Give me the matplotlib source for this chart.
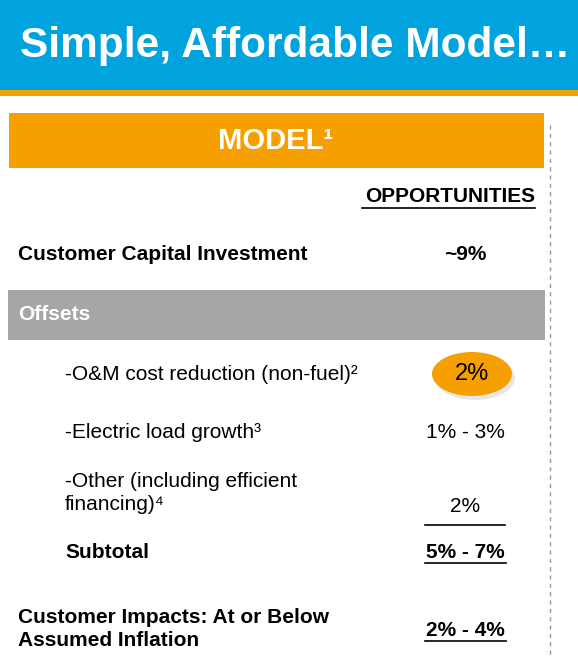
import matplotlib
matplotlib.use("Agg")
import matplotlib.pyplot as plt
from matplotlib.patches import Rectangle, Ellipse

plt.rcParams['font.family'] = ['Liberation Sans', 'DejaVu Sans']

title = "Simple, Affordable Model\u2026"
header = "MODEL\u00b9"
col_header = "OPPORTUNITIES"

# rows: label, value, text positions and styling flags
labels = ["Customer Capital Investment",
          "-O&M cost reduction (non-fuel)\u00b2",
          "-Electric load growth\u00b3",
          "-Other (including efficient\nfinancing)\u2074",
          "Subtotal",
          "Customer Impacts: At or Below\nAssumed Inflation"]
values = ["~9%", "2%", "1% - 3%", "2%", "5% - 7%", "2% - 4%"]
label_y = [255, 374, 433, 493, 553, 629]
value_y = [255, 374, 433, 506, 553, 631]
indented = [False, True, True, True, True, False]
bold = [True, False, False, False, True, True]
underlined = [False, False, False, False, True, True]

BLUE = "#00A3DD"
ORANGE = "#F5A000"
GREY = "#A6A6A6"
FS = 15

fig = plt.figure(figsize=(5.78, 6.56), dpi=100)
ax = fig.add_axes([0, 0, 1, 1])
ax.set_xlim(0, 578)
ax.set_ylim(656, 0)
ax.axis("off")

# header band
ax.add_patch(Rectangle((0, 0), 578, 90, color=BLUE, lw=0))
ax.add_patch(Rectangle((0, 90), 578, 6, color=ORANGE, lw=0))
ax.text(20, 46, title, color="white", fontsize=30.5, fontweight="bold", va="center")

# dashed divider
ax.plot([550, 550], [125, 656], color="#999999", lw=1, ls=(0, (3, 3)))

# model box
ax.add_patch(Rectangle((9, 113), 535, 55, color=ORANGE, lw=0))
ax.text(276, 141, header, color="white", fontsize=21, fontweight="bold",
        ha="center", va="center")

ax.text(535, 196, col_header, fontsize=FS, fontweight="bold", ha="right", va="center")
ax.plot([362, 535], [208, 208], color="black", lw=1.2)

# offsets band
ax.add_patch(Rectangle((8, 290), 537, 50, color=GREY, lw=0))
ax.text(18, 315, "Offsets", color="white", fontsize=FS, fontweight="bold", va="center")

# highlight ellipse on O&M value
ax.add_patch(Ellipse((475, 378), 80, 44, color="#d8d8d8", lw=0, alpha=0.6))
ax.add_patch(Ellipse((472, 374), 80, 44, color=ORANGE, lw=0))

for lab, val, ly, vy, ind, b, u in zip(labels, values, label_y, value_y,
                                       indented, bold, underlined):
    x = 65 if ind else 18
    w = "bold" if b else "normal"
    ax.text(x, ly, lab, fontsize=FS, fontweight=w, va="center", linespacing=1.3)
    vfs = 17 if val == "2%" and ly == 374 else FS
    ax.text(465 if vfs == FS else 472, vy, val, fontsize=vfs, fontweight=w,
            ha="center", va="center")
    if u:
        ax.plot([425, 506], [vy + 10, vy + 10], color="black", lw=1.2)

# rule under the "Other" line
ax.plot([425, 505], [525, 525], color="black", lw=1.2)

fig.savefig("out.png", dpi=100)
